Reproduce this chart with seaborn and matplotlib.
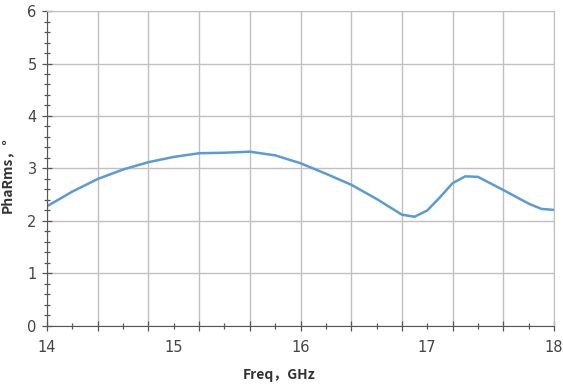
import numpy as np
import pandas as pd
import seaborn as sns
import matplotlib.pyplot as plt

##
# data

freq = [14.0, 14.2, 14.4, 14.6, 14.8, 15.0, 15.2, 15.4, 15.6, 15.8,
        16.0, 16.2, 16.4, 16.6, 16.8, 16.9, 17.0, 17.1, 17.2, 17.3,
        17.4, 17.6, 17.8, 17.9, 18.0]
pha_rms = [2.28, 2.56, 2.80, 2.98, 3.12, 3.22, 3.29, 3.30, 3.32, 3.25,
           3.10, 2.90, 2.69, 2.42, 2.12, 2.08, 2.20, 2.45, 2.72, 2.85,
           2.84, 2.59, 2.33, 2.23, 2.21]
x_labels = [14, 15, 16, 17, 18]

df = pd.DataFrame({'freq': freq, 'pha_rms': pha_rms})

##
# plot

sns.set_style('white')
plt.rcParams['font.family'] = ['DejaVu Sans', 'Noto Sans CJK SC']

fig = plt.figure(figsize=(5.63, 3.88), dpi=100)
ax = fig.add_axes([0.0835, 0.160, 0.9005, 0.8116])

sns.lineplot(data=df, x='freq', y='pha_rms', color='#5b9bd5', linewidth=1.8, ax=ax)

ax.set_xlim(14, 18)
ax.set_ylim(0, 6)
ax.set_xticks(np.arange(14, 18.01, 0.4))
ax.set_xticklabels([])
ax.set_xticks(np.arange(14, 18.01, 0.2), minor=True)
ax.set_yticks(np.arange(0, 6.01, 1))
ax.set_yticks(np.arange(0, 6.01, 0.2), minor=True)
ax.grid(True, which='major', color='#c0c0c0', linewidth=1.0)
ax.tick_params(axis='both', which='both', bottom=True, left=True,
               direction='inout', color='#555555', width=0.9)
ax.tick_params(axis='both', which='major', length=7,
               labelsize=10.5, labelcolor='#444444')
ax.tick_params(axis='both', which='minor', length=5)
ax.tick_params(axis='y', pad=4)

sec = ax.secondary_xaxis('bottom')
sec.set_xticks(x_labels)
sec.tick_params(length=0, pad=10, labelsize=10.5, labelcolor='#444444')
sec.spines['bottom'].set_visible(False)

for side in ['top', 'right']:
    ax.spines[side].set_color('#c0c0c0')
for side in ['left', 'bottom']:
    ax.spines[side].set_color('#555555')

cjk = ['Noto Sans CJK SC', 'DejaVu Sans']
ax.set_xlabel('Freq，GHz', fontsize=10, fontweight='bold', color='#333333',
              family=cjk)
ax.set_ylabel('PhaRms，°', fontsize=10, fontweight='bold', color='#333333',
              family=cjk)
sec.set_xlabel('')
ax.xaxis.set_label_coords(0.458, -0.135)
ax.yaxis.set_label_coords(-0.065, 0.48)

fig.savefig('out.png', dpi=100)
plt.close()
